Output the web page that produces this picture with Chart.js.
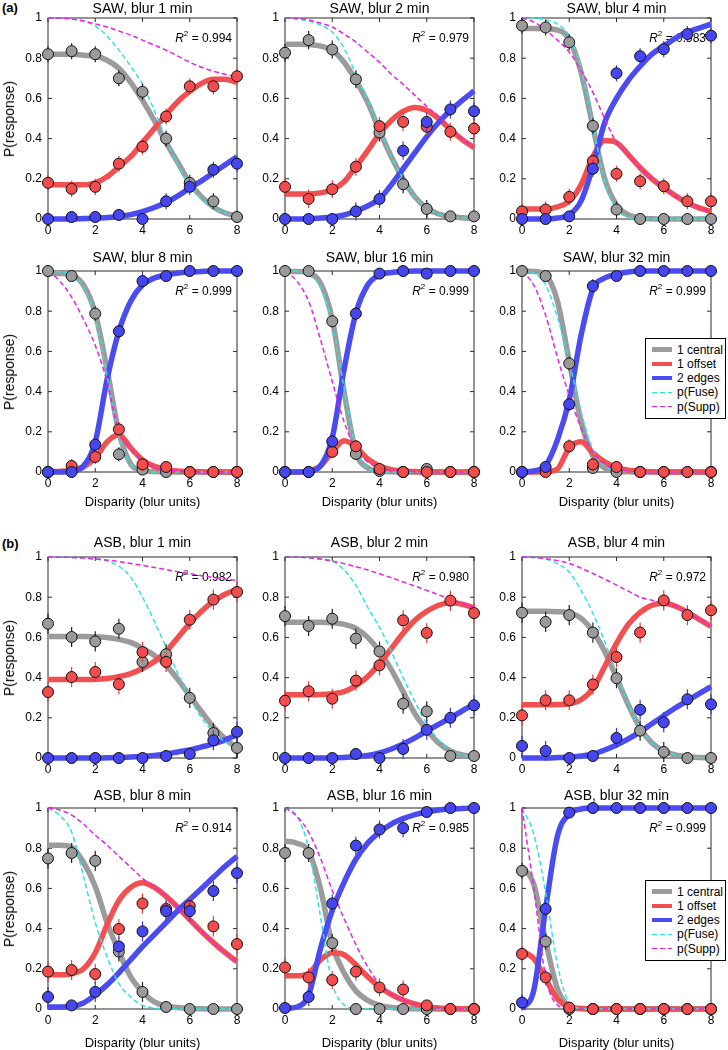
<!DOCTYPE html>
<html lang="en">
<head>
<meta charset="UTF-8">
<title>P(response) vs disparity, SAW and ASB</title>
<script src="https://cdn.jsdelivr.net/npm/chart.js"></script>
<style>
  body { margin: 0; background: #fff; }
  #page { position: relative; width: 728px; height: 1050px; overflow: hidden; font-family: "Liberation Sans", Arial, sans-serif; color: #000; }
  #page canvas { position: absolute; }
  .lbl { position: absolute; white-space: nowrap; transform: translate(-50%, -50%); line-height: 1; }
  .ylab { transform: translate(-50%, -50%) rotate(-90deg); font-size: 14px; }
  .xlab { font-size: 13px; }
  .tag { position: absolute; font-weight: bold; font-size: 13px; line-height: 1; }
  .legend { position: absolute; width: 79px; height: 79px; border: 1px solid #000; background: #fff; font-size: 12px; z-index: 5; }
  .legend .row { position: absolute; left: 0; height: 14px; line-height: 14px; white-space: nowrap; }
  .legend .smp { position: absolute; left: 6px; width: 20px; }
  .legend .txt { position: absolute; left: 31px; top: 0; }
</style>
</head>
<body>
<div id="page">
  <div class="tag" style="left:2px; top:1px;">(a)</div>
  <div class="tag" style="left:2px; top:537px;">(b)</div>
</div>
<script>
// sample positions of the fitted curves and the measured disparities
const xFit = [0,0.5,1,1.5,2,2.5,3,3.5,4,4.5,5,5.5,6,6.5,7,7.5,8];
const xData = [0,1,2,3,4,5,6,7,8];
const xTickValues = [0,2,4,6,8];
const yTickValues = [0,0.2,0.4,0.6,0.8,1];

const titles = ['SAW, blur 1 min','SAW, blur 2 min','SAW, blur 4 min','SAW, blur 8 min','SAW, blur 16 min','SAW, blur 32 min',
                'ASB, blur 1 min','ASB, blur 2 min','ASB, blur 4 min','ASB, blur 8 min','ASB, blur 16 min','ASB, blur 32 min'];
const r2Values = ['0.994','0.979','0.983','0.999','0.999','0.999','0.982','0.980','0.972','0.914','0.985','0.999'];
const errHalf = [0.04,0.045,0.04,0.035,0.03,0.035,0.05,0.05,0.05,0.05,0.045,0.04];
const legendLabels = ['1 central','1 offset','2 edges','p(Fuse)','p(Supp)'];

// SAW, blur 1 min
const saw1Central = [0.82,0.835,0.82,0.70,0.633,0.40,0.18,0.088,0.01];
const saw1Offset  = [0.18,0.15,0.16,0.275,0.36,0.51,0.66,0.66,0.71];
const saw1Edges   = [0,0.01,0.01,0.02,0,0.088,0.16,0.245,0.275];
const saw1FitCentral = [0.82,0.82,0.82,0.815,0.81,0.79,0.75,0.68,0.59,0.49,0.38,0.28,0.18,0.11,0.06,0.03,0.015];
const saw1FitOffset  = [0.17,0.17,0.17,0.17,0.18,0.21,0.26,0.31,0.38,0.45,0.52,0.585,0.635,0.675,0.695,0.695,0.68];
const saw1FitEdges   = [0,0,0,0.002,0.004,0.007,0.012,0.022,0.037,0.057,0.082,0.115,0.155,0.19,0.23,0.27,0.31];
const saw1Fuse = [1,1,0.995,0.985,0.96,0.91,0.84,0.76,0.67,0.54,0.4,0.27,0.17,0.1,0.055,0.03,0.015];
const saw1Supp = [1,1,0.995,0.985,0.97,0.955,0.935,0.915,0.89,0.865,0.84,0.81,0.78,0.755,0.735,0.72,0.705];

// SAW, blur 2 min
const saw2Central = [0.827,0.89,0.843,0.695,0.43,0.173,0.05,0.013,0.013];
const saw2Offset  = [0.16,0.1,0.148,0.26,0.462,0.483,0.459,0.434,0.45];
const saw2Edges   = [0,0,0,0.038,0.1,0.34,0.483,0.545,0.536];
const saw2FitCentral = [0.87,0.87,0.868,0.86,0.84,0.78,0.69,0.58,0.44,0.31,0.2,0.11,0.055,0.025,0.012,0.006,0.003];
const saw2FitOffset  = [0.125,0.125,0.125,0.13,0.145,0.185,0.26,0.34,0.425,0.49,0.535,0.555,0.54,0.5,0.445,0.395,0.355];
const saw2FitEdges   = [0,0,0.002,0.005,0.01,0.02,0.04,0.065,0.1,0.17,0.25,0.33,0.41,0.48,0.54,0.59,0.637];
const saw2Fuse = [1,0.995,0.985,0.965,0.93,0.85,0.72,0.59,0.45,0.31,0.2,0.11,0.055,0.025,0.012,0.006,0.003];
const saw2Supp = [1,0.998,0.99,0.975,0.955,0.92,0.88,0.83,0.78,0.72,0.67,0.615,0.56,0.51,0.455,0.4,0.355];

// SAW, blur 4 min
const saw4Central = [0.962,0.953,0.879,0.463,0.047,0,0,0,0];
const saw4Offset  = [0.038,0.047,0.11,0.288,0.225,0.188,0.163,0.088,0.088];
const saw4Edges   = [0,0,0.013,0.25,0.725,0.81,0.845,0.92,0.912];
const saw4FitCentral = [0.948,0.948,0.947,0.94,0.895,0.73,0.46,0.2,0.07,0.02,0.005,0.001,0,0,0,0,0];
const saw4FitOffset  = [0.05,0.05,0.05,0.06,0.09,0.17,0.31,0.39,0.38,0.32,0.255,0.2,0.155,0.115,0.08,0.055,0.038];
const saw4FitEdges   = [0,0,0,0.005,0.02,0.09,0.26,0.48,0.6,0.69,0.76,0.82,0.86,0.9,0.93,0.95,0.97];
const saw4Fuse = [1,1,0.99,0.97,0.91,0.75,0.47,0.19,0.05,0.01,0.002,0,0,0,0,0,0];
const saw4Supp = [1,0.98,0.94,0.89,0.83,0.74,0.63,0.5,0.38,0.32,0.255,0.2,0.155,0.115,0.08,0.055,0.038];

// SAW, blur 8 min
const saw8Central = [1,0.975,0.788,0.088,0.012,0,0,0,0];
const saw8Offset  = [0,0.03,0.075,0.212,0.038,0.025,0,0,0];
const saw8Edges   = [0,0,0.136,0.70,0.95,0.975,1,1,1];
const saw8FitCentral = [0.987,0.987,0.98,0.93,0.79,0.51,0.2,0.04,0.008,0.002,0,0,0,0,0,0,0];
const saw8FitOffset  = [0.002,0.003,0.008,0.025,0.07,0.15,0.185,0.12,0.06,0.028,0.012,0.005,0.002,0.001,0,0,0];
const saw8FitEdges   = [0,0,0.005,0.03,0.15,0.46,0.7,0.85,0.93,0.965,0.98,0.99,0.995,0.998,1,1,1];
const saw8Fuse = [1,0.995,0.98,0.92,0.77,0.48,0.18,0.04,0.005,0,0,0,0,0,0,0,0];
const saw8Supp = [1,0.95,0.87,0.76,0.63,0.45,0.2,0.12,0.055,0.025,0.01,0.005,0.002,0,0,0,0];

// SAW, blur 16 min
const saw16Central = [1,1,0.75,0.09,0.005,0,0.015,0,0];
const saw16Offset  = [0,0,0.1,0.128,0.015,0,0,0,0];
const saw16Edges   = [0,0,0.152,0.788,0.987,1,0.987,1,1];
const saw16FitCentral = [0.997,0.997,0.99,0.94,0.76,0.4,0.1,0.02,0.004,0.001,0,0,0,0,0,0,0];
const saw16FitOffset  = [0,0,0.005,0.03,0.1,0.155,0.125,0.065,0.03,0.012,0.005,0.002,0,0,0,0,0];
const saw16FitEdges   = [0,0,0.003,0.03,0.17,0.51,0.79,0.93,0.98,0.993,0.998,1,1,1,1,1,1];
const saw16Fuse = [1,1,0.98,0.92,0.74,0.42,0.12,0.02,0.003,0,0,0,0,0,0,0,0];
const saw16Supp = [1,0.95,0.85,0.66,0.45,0.25,0.11,0.05,0.02,0.01,0.005,0.002,0,0,0,0,0];

// SAW, blur 32 min
const saw32Central = [1,0.975,0.54,0.02,0,0,0,0,0];
const saw32Offset  = [0,0,0.128,0.038,0.025,0,0,0,0];
const saw32Edges   = [0,0.025,0.337,0.925,0.975,1,1,1,1];
const saw32FitCentral = [1,0.998,0.98,0.85,0.55,0.25,0.08,0.02,0.004,0.001,0,0,0,0,0,0,0];
const saw32FitOffset  = [0,0,0.001,0.015,0.12,0.15,0.095,0.05,0.022,0.009,0.004,0.001,0,0,0,0,0];
const saw32FitEdges   = [0,0.005,0.033,0.16,0.36,0.68,0.91,0.965,0.985,0.995,1,1,1,1,1,1,1];
const saw32Fuse = [1,0.99,0.93,0.77,0.55,0.3,0.11,0.03,0.008,0.002,0,0,0,0,0,0,0];
const saw32Supp = [1,0.93,0.78,0.57,0.38,0.22,0.1,0.04,0.015,0.005,0,0,0,0,0,0,0];

// ASB, blur 1 min
const asb1Central = [0.668,0.602,0.58,0.643,0.478,0.516,0.299,0.124,0.05];
const asb1Offset  = [0.328,0.403,0.428,0.367,0.527,0.478,0.688,0.788,0.826];
const asb1Edges   = [0,0,0,0,0,0.01,0.02,0.088,0.13];
const asb1FitCentral = [0.605,0.605,0.605,0.605,0.603,0.6,0.59,0.575,0.545,0.51,0.46,0.39,0.31,0.23,0.155,0.095,0.05];
const asb1FitOffset  = [0.39,0.39,0.39,0.39,0.392,0.396,0.405,0.42,0.445,0.48,0.53,0.6,0.67,0.73,0.78,0.815,0.84];
const asb1FitEdges   = [0,0,0,0,0,0.001,0.002,0.005,0.008,0.013,0.02,0.03,0.04,0.055,0.07,0.09,0.115];
const asb1Fuse = [1,1,0.998,0.995,0.99,0.98,0.955,0.9,0.8,0.68,0.55,0.42,0.3,0.2,0.13,0.08,0.05];
const asb1Supp = [1,0.999,0.998,0.995,0.99,0.985,0.977,0.968,0.958,0.948,0.937,0.927,0.917,0.907,0.898,0.89,0.883];

// ASB, blur 2 min
const asb2Central = [0.706,0.657,0.693,0.594,0.53,0.27,0.232,0.01,0.01];
const asb2Offset  = [0.285,0.332,0.295,0.385,0.461,0.685,0.622,0.783,0.721];
const asb2Edges   = [0,0,0,0.02,0,0.045,0.14,0.2,0.262];
const asb2FitCentral = [0.675,0.675,0.675,0.675,0.673,0.665,0.645,0.6,0.53,0.44,0.33,0.22,0.14,0.075,0.035,0.015,0.006];
const asb2FitOffset  = [0.315,0.315,0.315,0.316,0.32,0.33,0.36,0.405,0.47,0.545,0.62,0.685,0.73,0.76,0.772,0.765,0.746];
const asb2FitEdges   = [0,0,0,0,0.001,0.003,0.006,0.012,0.025,0.045,0.07,0.1,0.135,0.167,0.2,0.235,0.268];
const asb2Fuse = [1,1,0.995,0.99,0.98,0.935,0.86,0.75,0.65,0.53,0.4,0.28,0.17,0.09,0.04,0.015,0.005];
const asb2Supp = [1,0.999,0.996,0.99,0.98,0.967,0.952,0.935,0.917,0.897,0.876,0.855,0.834,0.812,0.79,0.77,0.75];

// ASB, blur 4 min
const asb4Central = [0.723,0.677,0.711,0.624,0.397,0.136,0.03,0,0];
const asb4Offset  = [0.212,0.287,0.287,0.366,0.502,0.624,0.784,0.711,0.735];
const asb4Edges   = [0.06,0.035,0,0.01,0.1,0.24,0.177,0.292,0.267];
const asb4FitCentral = [0.73,0.73,0.73,0.728,0.722,0.695,0.63,0.53,0.4,0.265,0.15,0.075,0.035,0.015,0.006,0.002,0.001];
const asb4FitOffset  = [0.265,0.265,0.265,0.266,0.27,0.29,0.345,0.455,0.57,0.665,0.725,0.76,0.77,0.755,0.725,0.69,0.655];
const asb4FitEdges   = [0,0,0,0.002,0.005,0.01,0.02,0.04,0.065,0.095,0.13,0.17,0.21,0.25,0.285,0.32,0.355];
const asb4Fuse = [1,0.998,0.99,0.967,0.925,0.834,0.72,0.58,0.42,0.27,0.15,0.075,0.035,0.015,0.006,0.002,0];
const asb4Supp = [1,0.998,0.992,0.982,0.968,0.945,0.918,0.89,0.86,0.83,0.8,0.785,0.77,0.755,0.725,0.69,0.655];

// ASB, blur 8 min
const asb8Central = [0.749,0.776,0.737,0.286,0.085,0.01,0,0,0];
const asb8Offset  = [0.186,0.194,0.174,0.398,0.525,0.498,0.512,0.411,0.323];
const asb8Edges   = [0.06,0.018,0.085,0.311,0.386,0.487,0.487,0.587,0.676];
const asb8FitCentral = [0.815,0.815,0.805,0.73,0.61,0.43,0.286,0.16,0.085,0.035,0.015,0.007,0.003,0.001,0,0,0];
const asb8FitOffset  = [0.17,0.17,0.175,0.2,0.28,0.42,0.54,0.605,0.628,0.605,0.56,0.505,0.445,0.385,0.33,0.28,0.235];
const asb8FitEdges   = [0.01,0.01,0.012,0.03,0.07,0.12,0.18,0.245,0.31,0.37,0.43,0.49,0.545,0.6,0.655,0.71,0.76];
const asb8Fuse = [1,0.963,0.88,0.66,0.43,0.26,0.127,0.06,0.018,0.005,0.001,0,0,0,0,0,0];
const asb8Supp = [1,0.99,0.965,0.92,0.865,0.815,0.76,0.705,0.65,0.605,0.56,0.505,0.445,0.385,0.33,0.28,0.235];

// ASB, blur 16 min
const asb16Central = [0.776,0.776,0.328,0,0,0,0,0,0];
const asb16Offset  = [0.207,0.157,0.144,0.186,0.107,0.097,0.018,0,0];
const asb16Edges   = [0.005,0.06,0.525,0.813,0.893,0.9,0.98,1,1];
const asb16FitCentral = [0.835,0.825,0.785,0.6,0.32,0.18,0.09,0.043,0.018,0.007,0.003,0.001,0,0,0,0,0];
const asb16FitOffset  = [0.165,0.165,0.177,0.244,0.28,0.27,0.22,0.16,0.11,0.072,0.045,0.025,0.012,0.005,0.002,0.001,0];
const asb16FitEdges   = [0.003,0.01,0.07,0.3,0.49,0.63,0.745,0.825,0.88,0.92,0.947,0.967,0.98,0.99,0.995,0.998,1];
const asb16Fuse = [1,0.96,0.8,0.46,0.13,0.02,0.002,0,0,0,0,0,0,0,0,0,0];
const asb16Supp = [1,0.96,0.88,0.75,0.59,0.45,0.32,0.21,0.125,0.075,0.045,0.025,0.012,0.005,0.002,0.001,0];

// ASB, blur 32 min
const asb32Central = [0.687,0.336,0,0,0,0,0,0,0];
const asb32Offset  = [0.274,0.157,0.007,0,0,0,0,0,0];
const asb32Edges   = [0.032,0.498,0.977,1,1,1,1,1,1];
const asb32FitCentral = [0.71,0.62,0.34,0.1,0.015,0.002,0,0,0,0,0,0,0,0,0,0,0];
const asb32FitOffset  = [0.29,0.25,0.15,0.05,0.01,0.002,0,0,0,0,0,0,0,0,0,0,0];
const asb32FitEdges   = [0,0.094,0.5,0.86,0.97,0.995,1,1,1,1,1,1,1,1,1,1,1];
const asb32Fuse = [1,0.87,0.58,0.22,0.03,0.003,0,0,0,0,0,0,0,0,0,0,0];
const asb32Supp = [1,0.6,0.16,0.02,0.002,0,0,0,0,0,0,0,0,0,0,0,0];

// legend top edge (in P units) for the two panels that carry a legend
const legendTop = {5: 0.667, 11: 0.642};

const pointSets = [
  [saw1Central, saw1Offset, saw1Edges], [saw2Central, saw2Offset, saw2Edges], [saw4Central, saw4Offset, saw4Edges],
  [saw8Central, saw8Offset, saw8Edges], [saw16Central, saw16Offset, saw16Edges], [saw32Central, saw32Offset, saw32Edges],
  [asb1Central, asb1Offset, asb1Edges], [asb2Central, asb2Offset, asb2Edges], [asb4Central, asb4Offset, asb4Edges],
  [asb8Central, asb8Offset, asb8Edges], [asb16Central, asb16Offset, asb16Edges], [asb32Central, asb32Offset, asb32Edges]
];
const fitSets = [
  [saw1FitCentral, saw1FitOffset, saw1FitEdges, saw1Fuse, saw1Supp],
  [saw2FitCentral, saw2FitOffset, saw2FitEdges, saw2Fuse, saw2Supp],
  [saw4FitCentral, saw4FitOffset, saw4FitEdges, saw4Fuse, saw4Supp],
  [saw8FitCentral, saw8FitOffset, saw8FitEdges, saw8Fuse, saw8Supp],
  [saw16FitCentral, saw16FitOffset, saw16FitEdges, saw16Fuse, saw16Supp],
  [saw32FitCentral, saw32FitOffset, saw32FitEdges, saw32Fuse, saw32Supp],
  [asb1FitCentral, asb1FitOffset, asb1FitEdges, asb1Fuse, asb1Supp],
  [asb2FitCentral, asb2FitOffset, asb2FitEdges, asb2Fuse, asb2Supp],
  [asb4FitCentral, asb4FitOffset, asb4FitEdges, asb4Fuse, asb4Supp],
  [asb8FitCentral, asb8FitOffset, asb8FitEdges, asb8Fuse, asb8Supp],
  [asb16FitCentral, asb16FitOffset, asb16FitEdges, asb16Fuse, asb16Supp],
  [asb32FitCentral, asb32FitOffset, asb32FitEdges, asb32Fuse, asb32Supp]
];

// ---- layout / style ----
const colLeft = [48, 285, 522];
const rowTop = [18, 271, 557, 808];
const titleGap = [8.5, 12.5, 13.5, 12];
const plotW = 189, plotH = 201, padTop = 22, axisW = 48, padRight = 20, axisH = 45;

const fitColors = ['#9b9b9b', '#f25050', '#4b4bf2', '#30e3e3', '#e524e5'];
const ptColors = ['#9a9a9a', '#f24c4c', '#4646f0'];
const errColors = ['#222', '#e83a3a', '#3a3ae6'];

Chart.defaults.font.family = '"Liberation Sans", Arial, sans-serif';
Chart.defaults.font.size = 12;
Chart.defaults.color = '#000';

function line(ctx, x1, y1, x2, y2) {
  ctx.beginPath(); ctx.moveTo(x1, y1); ctx.lineTo(x2, y2); ctx.stroke();
}

const deco = {
  id: 'deco',
  beforeDatasetsDraw(chart, args, o) {
    const {ctx, chartArea: a, scales: {x, y}} = chart;
    ctx.save();
    // frame with inward ticks
    ctx.strokeStyle = '#2a2a2a';
    ctx.lineWidth = 1;
    ctx.strokeRect(a.left, a.top, a.right - a.left, a.bottom - a.top);
    x.ticks.forEach(t => {
      const px = x.getPixelForValue(t.value);
      line(ctx, px, a.bottom, px, a.bottom - 4);
      line(ctx, px, a.top, px, a.top + 4);
    });
    y.ticks.forEach(t => {
      const py = y.getPixelForValue(t.value);
      line(ctx, a.left, py, a.left + 4, py);
      line(ctx, a.right, py, a.right - 4, py);
    });
    // title
    ctx.fillStyle = '#000';
    ctx.font = '14px "Liberation Sans", Arial, sans-serif';
    ctx.textAlign = 'center';
    ctx.textBaseline = 'middle';
    ctx.fillText(o.title, (a.left + a.right) / 2, a.top - o.gap);
    // R^2 label
    const fMain = '12px "Liberation Sans", Arial, sans-serif';
    const fIt = 'italic 12px "Liberation Sans", Arial, sans-serif';
    const fSup = '8px "Liberation Sans", Arial, sans-serif';
    const rest = ' = ' + o.r2;
    ctx.textAlign = 'left';
    ctx.font = fMain; const wRest = ctx.measureText(rest).width;
    ctx.font = fSup; const wSup = ctx.measureText('2').width;
    ctx.font = fIt; const wR = ctx.measureText('R').width;
    let tx = a.right - 5 - wRest - wSup - wR;
    const ty = a.top + 21;
    ctx.fillText('R', tx, ty); tx += wR;
    ctx.font = fSup; ctx.fillText('2', tx, ty - 5); tx += wSup;
    ctx.font = fMain; ctx.fillText(rest, tx, ty);
    ctx.restore();
  },
  beforeDatasetDraw(chart, args, o) {
    const ds = chart.data.datasets[args.index];
    if (!ds.errColor) return;
    const {ctx, scales: {y}} = chart;
    ctx.save();
    ctx.strokeStyle = ds.errColor;
    ctx.lineWidth = 1.2;
    args.meta.data.forEach((pt, i) => {
      const v = ds.data[i].y;
      if (v < 0.03 || v > 0.97) return;
      line(ctx, pt.x, y.getPixelForValue(v - o.err), pt.x, y.getPixelForValue(v + o.err));
    });
    ctx.restore();
  }
};

function fitSet(vals, k, order) {
  return {
    data: xFit.map((x, i) => ({x, y: vals[i]})),
    borderColor: fitColors[k],
    borderWidth: k < 3 ? 5.5 : 1.5,
    borderDash: k < 3 ? [] : [5, 3],
    pointRadius: 0,
    cubicInterpolationMode: 'monotone',
    fill: false,
    clip: false,
    order
  };
}

function ptSet(vals, k, order) {
  return {
    data: xData.map((x, i) => ({x, y: vals[i]})),
    showLine: false,
    pointRadius: 5.5,
    pointBackgroundColor: ptColors[k],
    pointBorderColor: '#111',
    pointBorderWidth: 1,
    errColor: errColors[k],
    clip: false,
    order
  };
}

const page = document.getElementById('page');

function addLabel(cls, text, x, y) {
  const d = document.createElement('div');
  d.className = 'lbl ' + cls;
  d.textContent = text;
  d.style.left = x + 'px';
  d.style.top = y + 'px';
  page.appendChild(d);
}

// boxed legend laid over the plot frame, as in the figure
function addLegend(left, top) {
  const box = document.createElement('div');
  box.className = 'legend';
  box.style.left = left + 'px';
  box.style.top = top + 'px';
  legendLabels.forEach((lab, i) => {
    const r = document.createElement('div');
    r.className = 'row';
    r.style.top = (3.5 + i * 14.3) + 'px';
    const s = document.createElement('span');
    s.className = 'smp';
    if (i < 3) {
      s.style.top = '4.75px'; s.style.height = '4.5px'; s.style.background = fitColors[i];
    } else {
      s.style.top = '6.25px'; s.style.height = '1.5px';
      s.style.background = 'repeating-linear-gradient(to right, ' + fitColors[i] + ' 0 5px, transparent 5px 8px)';
    }
    const t = document.createElement('span');
    t.className = 'txt';
    t.textContent = lab;
    r.appendChild(s); r.appendChild(t);
    box.appendChild(r);
  });
  page.appendChild(box);
}

for (let p = 0; p < 12; p++) {
  const row = Math.floor(p / 3), col = p % 3;
  const cv = document.createElement('canvas');
  cv.width = axisW + plotW + padRight;
  cv.height = padTop + plotH + axisH;
  cv.style.left = (colLeft[col] - axisW) + 'px';
  cv.style.top = (rowTop[row] - padTop) + 'px';
  page.appendChild(cv);

  const fits = fitSets[p], pts = pointSets[p];
  const datasets = [
    ptSet(pts[2], 2, 1), ptSet(pts[1], 1, 2), ptSet(pts[0], 0, 3),
    fitSet(fits[4], 4, 4), fitSet(fits[3], 3, 5),
    fitSet(fits[2], 2, 6), fitSet(fits[1], 1, 7), fitSet(fits[0], 0, 8)
  ];

  new Chart(cv, {
    type: 'line',
    data: { datasets },
    plugins: [deco],
    options: {
      responsive: false,
      animation: false,
      events: [],
      layout: { padding: { top: padTop, right: padRight, left: 0, bottom: 0 } },
      scales: {
        x: {
          type: 'linear', min: 0, max: 8,
          afterBuildTicks: s => { s.ticks = xTickValues.map(v => ({value: v})); },
          afterFit: s => { s.height = axisH; },
          grid: { display: false, drawTicks: false },
          border: { display: false },
          ticks: { padding: 4, maxRotation: 0, autoSkip: false, callback: v => String(v) }
        },
        y: {
          type: 'linear', min: 0, max: 1,
          afterBuildTicks: s => { s.ticks = yTickValues.map(v => ({value: v})); },
          afterFit: s => { s.width = axisW; },
          grid: { display: false, drawTicks: false },
          border: { display: false },
          ticks: { padding: 6, autoSkip: false, callback: v => String(+Number(v).toFixed(1)) }
        }
      },
      plugins: {
        legend: { display: false },
        tooltip: { enabled: false },
        deco: { title: titles[p], r2: r2Values[p], err: errHalf[p], gap: titleGap[row] }
      }
    }
  });

  if (col === 0) addLabel('ylab', 'P(response)', 9, rowTop[row] + plotH / 2);
  if (row === 1 || row === 3) addLabel('xlab', 'Disparity (blur units)', colLeft[col] + plotW / 2, rowTop[row] + plotH + (row === 1 ? 29 : 33));
  if (legendTop[p] != null) addLegend(colLeft[col] + 123, Math.round(rowTop[row] + plotH * (1 - legendTop[p])));
}
</script>
</body>
</html>
